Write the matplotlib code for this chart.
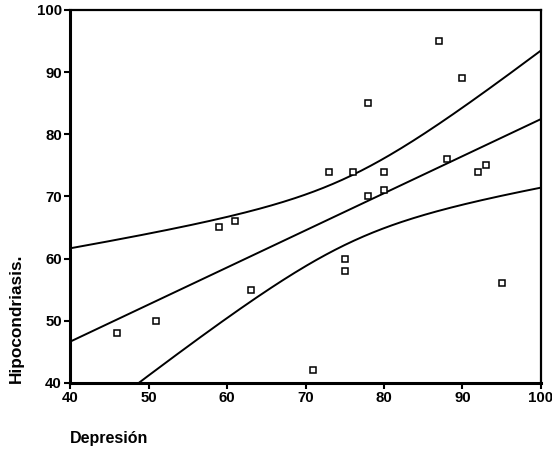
import numpy as np
import matplotlib
matplotlib.use("Agg")
import matplotlib.pyplot as plt

# puntos (Depresion, Hipocondriasis)
depresion = [46, 51, 59, 61, 63, 71, 73, 75, 75, 76, 78, 78, 80, 80, 87, 88, 90, 92, 93, 95]
hipocondriasis = [48, 50, 65, 66, 55, 42, 74, 60, 58, 74, 85, 70, 74, 71, 95, 76, 89, 74, 75, 56]

x_ticks = [40, 50, 60, 70, 80, 90, 100]
y_ticks = [40, 50, 60, 70, 80, 90, 100]

plt.rcParams['font.family'] = ['Liberation Sans', 'DejaVu Sans']

x = np.array(depresion, dtype=float)
y = np.array(hipocondriasis, dtype=float)

# recta de regresion y banda de confianza 95% para la media
n = len(x)
b, a = np.polyfit(x, y, 1)
res = y - (a + b * x)
s = np.sqrt(np.sum(res ** 2) / (n - 2))
sxx = np.sum((x - x.mean()) ** 2)
t = 2.101  # t(0.975, 18)
xs = np.linspace(40, 100, 200)
fit = a + b * xs
half = t * s * np.sqrt(1 / n + (xs - x.mean()) ** 2 / sxx)

fig = plt.figure(figsize=(5.52, 4.51), dpi=100)
ax = fig.add_axes([0.127, 0.151, 0.853, 0.827])

ax.plot(xs, fit, color='black', lw=1.4)
ax.plot(xs, fit + half, color='black', lw=1.4)
ax.plot(xs, fit - half, color='black', lw=1.4)
ax.plot(x, y, linestyle='none', marker='s', markersize=4.5,
        markerfacecolor='white', markeredgecolor='black', markeredgewidth=1.1)

ax.set_xlim(40, 100)
ax.set_ylim(40, 100)
ax.set_xticks(x_ticks)
ax.set_yticks(y_ticks)
ax.tick_params(direction='out', length=4, width=1.5, labelsize=10.8, pad=2)
for lab in ax.get_xticklabels() + ax.get_yticklabels():
    lab.set_fontweight('bold')
for side in ['left', 'bottom']:
    ax.spines[side].set_linewidth(2.2)
for side in ['top', 'right']:
    ax.spines[side].set_linewidth(1.6)

fig.text(0.127, 0.012, 'Depresión', fontsize=11.5, fontweight='bold',
         ha='left', va='bottom')
fig.text(0.016, 0.151, 'Hipocondriasis.', fontsize=12.4, fontweight='bold',
         rotation=90, ha='left', va='bottom')

fig.savefig('out.png', dpi=100)
